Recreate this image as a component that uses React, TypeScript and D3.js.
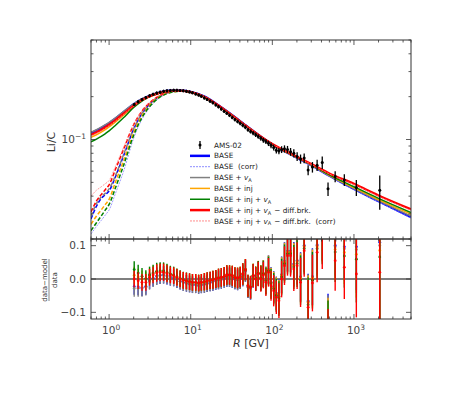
import * as d3 from 'd3';

// ---- data ----
// AMS-02 Li/C, rigidity bin centres [GV]
const AMS_R = [2.03, 2.27, 2.53, 2.82, 3.13, 3.46, 3.83, 4.22, 4.65, 5.12, 5.63, 6.18, 6.77, 7.42, 8.11, 8.86, 9.67, 10.5, 11.5, 12.5, 13.5, 14.7, 15.9, 17.3, 18.7, 20.3, 21.9, 23.7, 25.7, 27.7, 29.9, 32.3, 34.8, 37.5, 40.4, 43.5, 46.8, 50.3, 54.1, 58.2, 62.5, 67.2, 72.3, 77.6, 83.4, 89.7, 96.4, 103.9, 111.9, 120.4, 129.9, 140.9, 153.4, 167.3, 183.3, 201.3, 221.7, 245.6, 274.5, 309.9, 353.7, 408.8, 481.3, 588.6, 762.1, 1069.6, 2071];
const AMS_VAL = [0.176, 0.184, 0.191, 0.197, 0.203, 0.208, 0.212, 0.215, 0.218, 0.22, 0.221, 0.222, 0.222, 0.221, 0.22, 0.218, 0.216, 0.213, 0.209, 0.205, 0.201, 0.196, 0.191, 0.186, 0.181, 0.175, 0.17, 0.164, 0.158, 0.153, 0.148, 0.143, 0.138, 0.134, 0.13, 0.126, 0.122, 0.117, 0.114, 0.111, 0.108, 0.105, 0.102, 0.099, 0.097, 0.094, 0.091, 0.088, 0.084, 0.083, 0.085, 0.086, 0.085, 0.082, 0.08, 0.076, 0.073, 0.074, 0.061, 0.064, 0.066, 0.069, 0.045, 0.055, 0.052, 0.046, 0.044];
// relative errors
const AMS_ERR = [0.025, 0.025, 0.025, 0.025, 0.025, 0.025, 0.026, 0.026, 0.026, 0.026, 0.025, 0.025, 0.025, 0.025, 0.025, 0.025, 0.025, 0.025, 0.025, 0.025, 0.025, 0.026, 0.026, 0.026, 0.027, 0.027, 0.028, 0.028, 0.028, 0.029, 0.029, 0.03, 0.03, 0.031, 0.031, 0.032, 0.032, 0.033, 0.034, 0.035, 0.036, 0.037, 0.038, 0.04, 0.041, 0.043, 0.045, 0.047, 0.05, 0.052, 0.055, 0.058, 0.06, 0.063, 0.066, 0.07, 0.074, 0.078, 0.082, 0.085, 0.09, 0.1, 0.11, 0.09, 0.095, 0.13, 0.27];
// (data - model)/data for BASE + inj + vA - diff.brk.
const RES_RED = [0.0, -0.005, -0.01, -0.01, 0.005, 0.012, 0.018, 0.02, 0.02, 0.016, 0.012, 0.01, 0.005, 0.0, -0.004, -0.006, -0.008, -0.01, -0.01, -0.012, -0.01, -0.008, -0.006, -0.004, -0.002, 0.0, 0.003, 0.005, 0.008, 0.012, 0.012, 0.01, 0.005, 0.003, 0.006, 0.015, 0.028, -0.02, -0.025, 0.01, 0.0, 0.015, 0.0, 0.012, -0.01, 0.02, -0.02, -0.035, -0.055, -0.065, 0.0, 0.04, 0.07, 0.07, 0.03, 0.04, -0.01, 0.085, -0.085, -0.012, 0.08, 0.13, -0.2, 0.055, 0.035, 0.015, 0.02];

// model curves, top of atmosphere (solid)
const TOA_R = [0.6, 0.7, 0.8, 0.9, 1.0, 1.2, 1.5, 2, 2.5, 3, 4, 5, 6, 8, 10, 15, 20, 30, 50, 100, 200, 300, 500, 1000, 2000, 5000];
const BASE_TOA = [0.111, 0.1155, 0.1205, 0.1255, 0.1305, 0.1405, 0.1555, 0.177, 0.192, 0.201, 0.213, 0.2195, 0.2215, 0.221, 0.2165, 0.1995, 0.18, 0.153, 0.1225, 0.092, 0.0745, 0.066, 0.0555, 0.0448, 0.0368, 0.0284];
const BASE_CORR_TOA = [0.1095, 0.114, 0.119, 0.124, 0.129, 0.139, 0.154, 0.176, 0.191, 0.2005, 0.2125, 0.219, 0.221, 0.2205, 0.216, 0.199, 0.1795, 0.1525, 0.122, 0.0915, 0.0741, 0.0656, 0.0551, 0.0444, 0.0364, 0.0281];
const VA_TOA = [0.1125, 0.117, 0.122, 0.127, 0.132, 0.142, 0.157, 0.178, 0.1925, 0.2015, 0.213, 0.2195, 0.2215, 0.221, 0.2165, 0.1995, 0.18, 0.153, 0.1225, 0.092, 0.0746, 0.0661, 0.0557, 0.0452, 0.0372, 0.029];
const INJ_TOA = [0.1037, 0.108, 0.1125, 0.1175, 0.1225, 0.133, 0.148, 0.171, 0.187, 0.198, 0.2105, 0.2175, 0.2198, 0.2195, 0.2152, 0.1982, 0.179, 0.152, 0.122, 0.0922, 0.0748, 0.0663, 0.0561, 0.0459, 0.0378, 0.0299];
const INJ_VA_TOA = [0.0964, 0.1005, 0.105, 0.11, 0.115, 0.126, 0.142, 0.168, 0.1855, 0.1975, 0.21, 0.2172, 0.2195, 0.2193, 0.215, 0.198, 0.179, 0.152, 0.122, 0.0925, 0.0752, 0.0667, 0.0565, 0.0466, 0.0386, 0.0307];
const BRK_TOA = [0.108, 0.1125, 0.117, 0.122, 0.127, 0.137, 0.152, 0.173, 0.189, 0.199, 0.211, 0.218, 0.22, 0.2195, 0.215, 0.198, 0.179, 0.152, 0.122, 0.093, 0.0757, 0.0672, 0.0578, 0.0488, 0.0405, 0.0324];
const BRK_CORR_TOA = [0.106, 0.1105, 0.115, 0.12, 0.125, 0.135, 0.15, 0.172, 0.188, 0.1985, 0.2108, 0.2178, 0.2198, 0.2193, 0.2148, 0.1978, 0.1788, 0.1518, 0.1218, 0.0928, 0.0755, 0.0669, 0.0573, 0.0482, 0.0399, 0.0318];

// model curves, interstellar (dashed)
const IS_R = [0.6, 0.7, 0.8, 0.9, 1.0, 1.2, 1.5, 2, 2.5, 3, 4, 5, 6, 8, 10, 15, 20, 30, 50];
const BASE_IS = [0.0276, 0.034, 0.0385, 0.041, 0.0435, 0.055, 0.0765, 0.118, 0.15, 0.172, 0.199, 0.2125, 0.218, 0.2205, 0.2165, 0.1995, 0.18, 0.153, 0.1225];
const BASE_CORR_IS = [0.0217, 0.0245, 0.027, 0.0295, 0.032, 0.042, 0.0595, 0.102, 0.137, 0.162, 0.193, 0.2085, 0.2155, 0.219, 0.2155, 0.199, 0.1795, 0.1525, 0.122];
const VA_IS = [0.029, 0.0355, 0.0395, 0.042, 0.045, 0.056, 0.078, 0.119, 0.151, 0.1725, 0.1995, 0.213, 0.2185, 0.2205, 0.2165, 0.1995, 0.18, 0.153, 0.1225];
const INJ_IS = [0.0254, 0.029, 0.032, 0.035, 0.038, 0.0505, 0.0705, 0.112, 0.145, 0.168, 0.197, 0.2105, 0.216, 0.219, 0.215, 0.1982, 0.179, 0.152, 0.122];
const INJ_VA_IS = [0.0229, 0.026, 0.029, 0.032, 0.035, 0.046, 0.0655, 0.107, 0.141, 0.165, 0.195, 0.209, 0.2155, 0.2188, 0.2148, 0.198, 0.179, 0.152, 0.122];
const BRK_IS = [0.031, 0.037, 0.041, 0.0445, 0.048, 0.062, 0.085, 0.127, 0.157, 0.177, 0.201, 0.213, 0.218, 0.2195, 0.2155, 0.1985, 0.1792, 0.1522, 0.1222];
const BRK_CORR_IS = [0.04, 0.044, 0.0465, 0.049, 0.0515, 0.065, 0.0875, 0.128, 0.1575, 0.1772, 0.2008, 0.2128, 0.2178, 0.2193, 0.215, 0.198, 0.1788, 0.1518, 0.1218];

const X_TICK_LABELS = ['0', '1', '2', '3'];
const RES_TICKS = [-0.1, 0, 0.1];

type Model = { key: string; color: string; toa: number[]; is: number[]; lw: number; corr: boolean };

const MODELS: Model[] = [
  { key: 'base', color: '#0000ff', toa: BASE_TOA, is: BASE_IS, lw: 2.2, corr: false },
  { key: 'basecorr', color: '#8080ff', toa: BASE_CORR_TOA, is: BASE_CORR_IS, lw: 0.8, corr: true },
  { key: 'va', color: '#808080', toa: VA_TOA, is: VA_IS, lw: 1.5, corr: false },
  { key: 'inj', color: '#ffa500', toa: INJ_TOA, is: INJ_IS, lw: 1.5, corr: false },
  { key: 'injva', color: '#008000', toa: INJ_VA_TOA, is: INJ_VA_IS, lw: 1.5, corr: false },
  { key: 'brk', color: '#ff0000', toa: BRK_TOA, is: BRK_IS, lw: 2.2, corr: false },
  { key: 'brkcorr', color: '#ff8080', toa: BRK_CORR_TOA, is: BRK_CORR_IS, lw: 0.8, corr: true },
];

const L = 91, R = 411, T = 40, MID = 239, B = 319;
const FONT = 'DejaVu Sans, sans-serif';
const AX = '#333';

function VA() {
  return (
    <>
      <tspan fontStyle="italic">v</tspan>
      <tspan dy={1.8} fontSize={5}>A</tspan>
      <tspan dy={-1.8}>{'\u200a'}</tspan>
    </>
  );
}

export default function App() {
  const x = d3.scaleLog().domain([0.6, 5000]).range([L, R]);
  const y = d3.scaleLog().domain([0.02, 0.5]).range([MID, T]);
  const yr = d3.scaleLinear().domain([-0.12, 0.12]).range([B, MID]);

  const line = d3.line<[number, number]>()
    .x((d) => x(d[0]))
    .y((d) => y(d[1]))
    .curve(d3.curveMonotoneX);

  const xTicks: { v: number; major: boolean }[] = [];
  for (let e = -1; e <= 3; e++) {
    for (let k = 1; k <= 9; k++) {
      const v = k * Math.pow(10, e);
      if (v >= 0.6 && v <= 5000) xTicks.push({ v, major: k === 1 });
    }
  }
  const yTicks: { v: number; major: boolean }[] = [];
  for (let k = 2; k <= 9; k++) yTicks.push({ v: k * 0.01, major: false });
  yTicks.push({ v: 0.1, major: true });
  for (let k = 2; k <= 5; k++) yTicks.push({ v: k * 0.1, major: false });

  const redInterp = d3.scaleLog().domain(TOA_R).range(BRK_TOA);
  const resModels = MODELS.filter((m) => !m.corr);
  const resOrder = ['base', 'va', 'inj', 'injva', 'brk'];

  const legendRows: { kind: string; color?: string; lw?: number; dash?: string; label: any }[] = [
    { kind: 'data', label: 'AMS-02' },
    { kind: 'line', color: '#0000ff', lw: 2.5, label: 'BASE' },
    { kind: 'line', color: '#8080ff', lw: 0.9, dash: '2,1', label: 'BASE  (corr)' },
    { kind: 'line', color: '#808080', lw: 1.5, label: <>BASE + <VA /></> },
    { kind: 'line', color: '#ffa500', lw: 1.5, label: 'BASE + inj' },
    { kind: 'line', color: '#008000', lw: 1.5, label: <>BASE + inj + <VA /></> },
    { kind: 'line', color: '#ff0000', lw: 2.5, label: <>BASE + inj + <VA /> − diff.brk.</> },
    { kind: 'line', color: '#ff8080', lw: 0.9, dash: '2,1', label: <>BASE + inj + <VA /> − diff.brk.  (corr)</> },
  ];

  return (
    <svg width={457} height={400} style={{ position: 'absolute', left: 0, top: 0, background: '#fff' }} fontFamily={FONT}>
      <defs>
        <clipPath id="cm"><rect x={L} y={T} width={R - L} height={MID - T} /></clipPath>
        <clipPath id="cr"><rect x={L} y={MID} width={R - L} height={B - MID} /></clipPath>
      </defs>

      {/* main panel: model curves */}
      <g clipPath="url(#cm)" fill="none">
        {MODELS.map((m) => (
          <path key={m.key + 'is'} d={line(IS_R.map((r, i) => [r, m.is[i]]))!}
            stroke={m.color} strokeWidth={m.corr ? 0.8 : 1.5} strokeDasharray={m.corr ? '2,1.2' : '4,2'} />
        ))}
        {MODELS.map((m) => (
          <path key={m.key + 'toa'} d={line(TOA_R.map((r, i) => [r, m.toa[i]]))!}
            stroke={m.color} strokeWidth={m.lw} strokeDasharray={m.corr ? '2,1.2' : undefined} />
        ))}
        {AMS_R.map((r, i) => (
          <g key={'d' + i}>
            <line x1={x(r)} x2={x(r)} y1={y(AMS_VAL[i] * (1 + AMS_ERR[i]))} y2={y(AMS_VAL[i] * (1 - AMS_ERR[i]))} stroke="#000" strokeWidth={1.3} />
            <circle cx={x(r)} cy={y(AMS_VAL[i])} r={1.5} fill="#000" />
          </g>
        ))}
      </g>

      {/* residual panel */}
      <g clipPath="url(#cr)">
        <line x1={L} x2={R} y1={yr(0)} y2={yr(0)} stroke="#555" strokeWidth={1.5} />
        {resOrder.map((k) => {
          const m = resModels.find((mm) => mm.key === k)!;
          const interp = d3.scaleLog().domain(TOA_R).range(m.toa);
          return (
            <g key={'r' + k}>
              {AMS_R.map((r, i) => {
                const res = 1 - (1 - RES_RED[i]) * interp(r) / redInterp(r);
                return (
                  <g key={i}>
                    <line x1={x(r)} x2={x(r)} y1={yr(res + AMS_ERR[i])} y2={yr(res - AMS_ERR[i])} stroke={m.color} strokeWidth={1.4} />
                    <circle cx={x(r)} cy={yr(res)} r={1.4} fill={m.color} />
                  </g>
                );
              })}
            </g>
          );
        })}
      </g>

      {/* frames */}
      <rect x={L} y={T} width={R - L} height={MID - T} fill="none" stroke={AX} strokeWidth={1} />
      <rect x={L} y={MID} width={R - L} height={B - MID} fill="none" stroke={AX} strokeWidth={1} />

      {/* ticks, inward on every side */}
      <g stroke={AX} strokeWidth={0.8}>
        {xTicks.map((t) => {
          const xx = x(t.v);
          const len = t.major ? 5 : 2.5;
          return (
            <g key={'xt' + t.v}>
              <line x1={xx} x2={xx} y1={T} y2={T + len} />
              <line x1={xx} x2={xx} y1={MID} y2={MID - len} />
              <line x1={xx} x2={xx} y1={MID} y2={MID + len} />
              <line x1={xx} x2={xx} y1={B} y2={B - len} />
            </g>
          );
        })}
        {yTicks.map((t) => {
          const yy = y(t.v);
          const len = t.major ? 5 : 2.5;
          return (
            <g key={'yt' + t.v}>
              <line x1={L} x2={L + len} y1={yy} y2={yy} />
              <line x1={R} x2={R - len} y1={yy} y2={yy} />
            </g>
          );
        })}
        {RES_TICKS.map((v) => (
          <g key={'rt' + v}>
            <line x1={L} x2={L + 5} y1={yr(v)} y2={yr(v)} />
            <line x1={R} x2={R - 5} y1={yr(v)} y2={yr(v)} />
          </g>
        ))}
      </g>

      {/* labels */}
      <g fill="#444" fontSize={10.5}>
        <text x={86} y={y(0.1) + 3.5} textAnchor="end">10<tspan dy={-4.5} fontSize={7.5}>−1</tspan></text>
        {RES_TICKS.map((v) => (
          <text key={'rl' + v} x={86} y={yr(v) + 3.5} textAnchor="end">{v < 0 ? '−' + Math.abs(v).toFixed(1) : v.toFixed(1)}</text>
        ))}
        {X_TICK_LABELS.map((e) => (
          <text key={'xl' + e} x={x(Math.pow(10, +e)) + 2} y={334} textAnchor="middle">10<tspan dy={-4.5} fontSize={7.5}>{e}</tspan></text>
        ))}
      </g>
      <text x={(L + R) / 2} y={347} textAnchor="middle" fontSize={11} fill="#333">
        <tspan fontStyle="italic">R</tspan> [GV]
      </text>
      <text transform="translate(55,142) rotate(-90)" textAnchor="middle" fontSize={11} fill="#333">Li/C</text>
      <g transform="translate(49,280) rotate(-90)" fill="#333" fontSize={7}>
        <text x={0} y={-2} textAnchor="middle">data−model</text>
        <line x1={-21} x2={21} y1={0} y2={0} stroke="#333" strokeWidth={0.6} />
        <text x={0} y={7.5} textAnchor="middle">data</text>
      </g>

      {/* legend */}
      <g fontSize={7.3} fill="#222">
        {legendRows.map((row, i) => {
          const yy = 145 + i * 10.85;
          return (
            <g key={'lg' + i}>
              {row.kind === 'data' ? (
                <g>
                  <line x1={200} x2={200} y1={yy - 4} y2={yy + 4} stroke="#000" strokeWidth={1.3} />
                  <circle cx={200} cy={yy} r={1.5} fill="#000" />
                </g>
              ) : (
                <line x1={190} x2={210} y1={yy} y2={yy} stroke={row.color} strokeWidth={row.lw} strokeDasharray={row.dash} />
              )}
              <text x={214} y={yy + 2.6} style={{ whiteSpace: 'pre' }}>{row.label}</text>
            </g>
          );
        })}
      </g>
    </svg>
  );
}
